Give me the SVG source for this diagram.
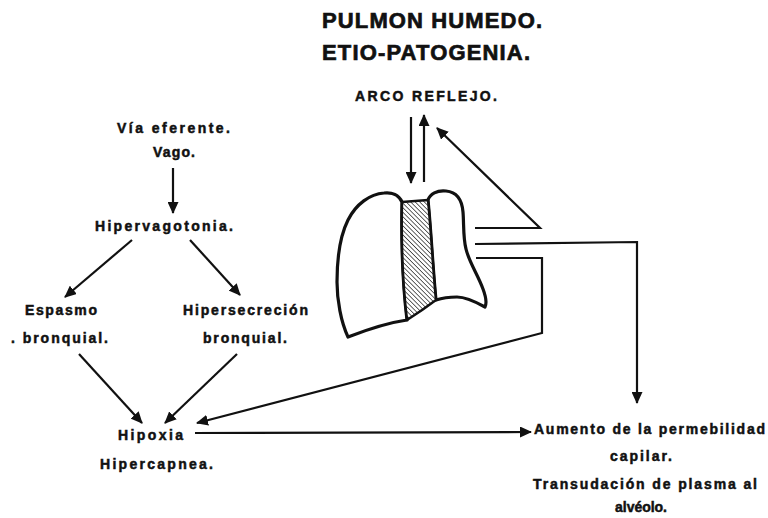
<svg xmlns="http://www.w3.org/2000/svg" width="768" height="518" viewBox="0 0 768 518">
  <style>
    text { font-family: "Liberation Sans", Arial, sans-serif; font-weight: bold; fill: #111; stroke: #111; stroke-width: 0.5; }
    .title { font-size: 22px; stroke-width: 0.7; }
    .sub { font-size: 14px; }
    .lbl { font-size: 14px; }
    .conn { fill: none; stroke: #111; stroke-width: 2.2; stroke-linejoin: miter; }
    .lung { fill: #fff; stroke: #111; stroke-width: 3.2; stroke-linejoin: round; }
    .hatch { fill: url(#hatch); stroke: #111; stroke-width: 2.5; stroke-linejoin: round; }
  </style>
  <defs>
    <marker id="head" markerUnits="userSpaceOnUse" markerWidth="12" markerHeight="11" refX="11" refY="5.5" orient="auto">
      <path d="M0,0 L12,5.5 L0,11 Z" fill="#111"/>
    </marker>
    <pattern id="hatch" patternUnits="userSpaceOnUse" width="3.2" height="3.2" patternTransform="rotate(-45)">
      <rect width="3.2" height="3.2" fill="#fff"/>
      <line x1="0" y1="0" x2="0" y2="3.2" stroke="#333" stroke-width="1.5"/>
    </pattern>
  </defs>
  <rect width="768" height="518" fill="#fff"/>

  <!-- heading -->
  <g id="title">
    <text class="title" x="322" y="28" textLength="220">PULMON HUMEDO.</text>
    <text class="title" x="322" y="60" textLength="208">ETIO-PATOGENIA.</text>
  </g>

  <g id="arco-reflejo">
    <text class="sub" x="355" y="101" textLength="142">ARCO REFLEJO.</text>
  </g>

  <!-- lungs with hatched mediastinum -->
  <g id="pulmones">
    <path class="lung" d="M402,202 C399,195 392,192 384,193 C370,194 356,204 348,220 C340,236 337,258 337,282 C337,300 341,322 348,337 C366,330 386,323 407,320 C404,295 401,250 402,202 Z"/>
    <path class="lung" d="M428,200 C430,194 437,190 446,191 C457,192 462,200 463,212 C464,224 463,238 466,249 C469,262 478,275 483,289 C486,297 487,303 485,307 C476,302 466,297 457,297 C449,297 442,298 436,300 C433,270 431,230 428,200 Z"/>
    <path class="hatch" d="M402,202 L428,200 C431,230 433,270 436,300 C428,306 418,313 407,320 C404,295 401,250 402,202 Z"/>
  </g>

  <g id="via-eferente">
    <text class="lbl" x="117" y="133" textLength="113">Vía eferente.</text>
    <text class="lbl" x="153" y="157" textLength="42">Vago.</text>
  </g>

  <g id="hipervagotonia">
    <text class="lbl" x="95" y="231" textLength="138">Hipervagotonia.</text>
  </g>

  <g id="espasmo">
    <text class="lbl" x="25" y="315" textLength="72">Espasmo</text>
    <text class="lbl" x="11" y="343" textLength="97">. bronquial.</text>
  </g>

  <g id="hipersecrecion">
    <text class="lbl" x="183" y="315" textLength="125">Hipersecreción</text>
    <text class="lbl" x="203" y="343" textLength="84">bronquial.</text>
  </g>

  <g id="hipoxia">
    <text class="lbl" x="118" y="440" textLength="65">Hipoxia</text>
    <text class="lbl" x="100" y="469" textLength="113">Hipercapnea.</text>
  </g>

  <g id="permeabilidad">
    <text class="lbl" x="534" y="434" textLength="231">Aumento de la permebilidad</text>
    <text class="lbl" x="610" y="461" textLength="62">capilar.</text>
    <text class="lbl" x="533" y="489" textLength="224">Transudación de plasma al</text>
    <text class="lbl" x="615" y="512" textLength="52">alvéolo.</text>
  </g>

  <!-- connectors -->
  <g id="connectors">
    <line class="conn" x1="411" y1="117" x2="411" y2="183" marker-end="url(#head)"/>
    <line class="conn" x1="424" y1="182" x2="424" y2="115" marker-end="url(#head)"/>
    <path class="conn" d="M475,228 L540,228 L437,128" marker-end="url(#head)"/>
    <path class="conn" d="M475,244 L637,242 L637,403" marker-end="url(#head)"/>
    <path class="conn" d="M476,258 L542,258 L542,333 L197,423" marker-end="url(#head)"/>
    <line class="conn" x1="173" y1="168" x2="173" y2="213" marker-end="url(#head)"/>
    <line class="conn" x1="132" y1="240" x2="65" y2="297" marker-end="url(#head)"/>
    <line class="conn" x1="190" y1="240" x2="240" y2="295" marker-end="url(#head)"/>
    <line class="conn" x1="79" y1="354" x2="142" y2="423" marker-end="url(#head)"/>
    <line class="conn" x1="237" y1="354" x2="165" y2="423" marker-end="url(#head)"/>
    <line class="conn" x1="195" y1="433" x2="531" y2="432" marker-end="url(#head)"/>
  </g>
</svg>
